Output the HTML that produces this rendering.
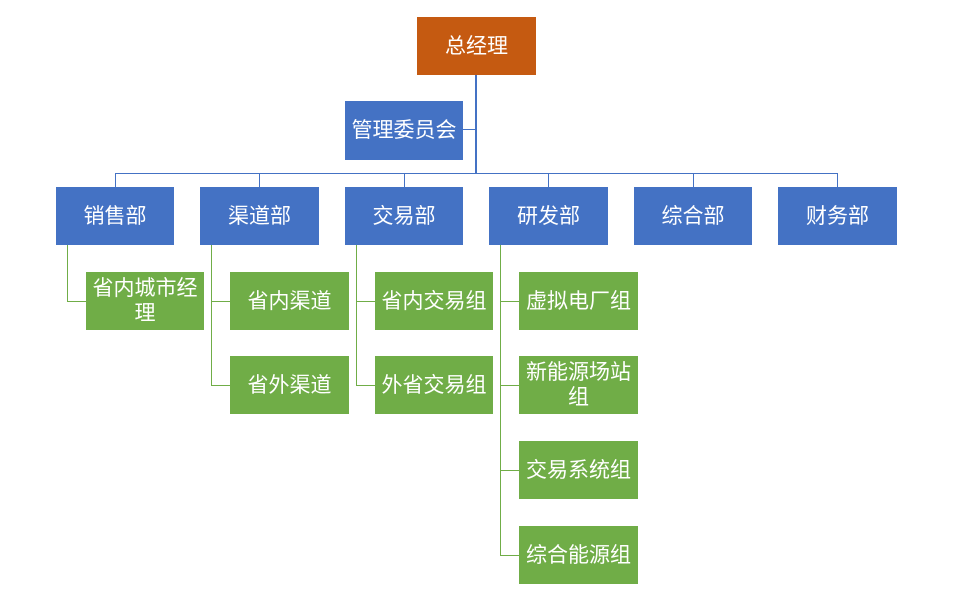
<!DOCTYPE html><html><head><meta charset="utf-8"><style>
body{margin:0;width:972px;height:607px;background:#fff;position:relative;overflow:hidden;font-family:"Liberation Sans","Noto Sans CJK SC",sans-serif}
.b{position:absolute;color:#fff;font-size:21px;line-height:25px;display:flex;align-items:center;justify-content:center;text-align:center;box-sizing:border-box;padding:0}
.o{background:#c55a11}.u{background:#4472c4}.g{background:#70ad47}
.l{position:absolute;background:#4472c4}.gl{position:absolute;background:#70ad47}
</style></head><body>
<div class="l" style="left:475px;top:75px;width:2px;height:99px"></div>
<div class="l" style="left:463px;top:129px;width:13px;height:1px"></div>
<div class="l" style="left:115px;top:173px;width:723px;height:1px"></div>
<div class="l" style="left:115px;top:173px;width:1px;height:14px"></div>
<div class="l" style="left:259px;top:173px;width:1px;height:14px"></div>
<div class="l" style="left:404px;top:173px;width:1px;height:14px"></div>
<div class="l" style="left:548px;top:173px;width:1px;height:14px"></div>
<div class="l" style="left:693px;top:173px;width:1px;height:14px"></div>
<div class="l" style="left:837px;top:173px;width:1px;height:14px"></div>
<div class="gl" style="left:67px;top:245px;width:1px;height:56px"></div>
<div class="gl" style="left:67px;top:301px;width:19px;height:1px"></div>
<div class="gl" style="left:211px;top:245px;width:1px;height:140px"></div>
<div class="gl" style="left:211px;top:301px;width:19px;height:1px"></div>
<div class="gl" style="left:211px;top:385px;width:19px;height:1px"></div>
<div class="gl" style="left:356px;top:245px;width:1px;height:140px"></div>
<div class="gl" style="left:356px;top:301px;width:19px;height:1px"></div>
<div class="gl" style="left:356px;top:385px;width:19px;height:1px"></div>
<div class="gl" style="left:500px;top:245px;width:1px;height:310px"></div>
<div class="gl" style="left:500px;top:301px;width:19px;height:1px"></div>
<div class="gl" style="left:500px;top:385px;width:19px;height:1px"></div>
<div class="gl" style="left:500px;top:470px;width:19px;height:1px"></div>
<div class="gl" style="left:500px;top:555px;width:19px;height:1px"></div>
<div class="b o" style="left:417px;top:17px;width:119px;height:58px">总经理</div>
<div class="b u" style="left:345px;top:101px;width:118px;height:59px">管理委员会</div>
<div class="b u" style="left:56px;top:187px;width:118px;height:58px">销售部</div>
<div class="b u" style="left:200px;top:187px;width:119px;height:58px">渠道部</div>
<div class="b u" style="left:345px;top:187px;width:118px;height:58px">交易部</div>
<div class="b u" style="left:489px;top:187px;width:119px;height:58px">研发部</div>
<div class="b u" style="left:634px;top:187px;width:118px;height:58px">综合部</div>
<div class="b u" style="left:778px;top:187px;width:119px;height:58px">财务部</div>
<div class="b g" style="left:86px;top:272px;width:118px;height:58px">省内城市经理</div>
<div class="b g" style="left:230px;top:272px;width:119px;height:58px">省内渠道</div>
<div class="b g" style="left:230px;top:356px;width:119px;height:58px">省外渠道</div>
<div class="b g" style="left:375px;top:272px;width:118px;height:58px">省内交易组</div>
<div class="b g" style="left:375px;top:356px;width:118px;height:58px">外省交易组</div>
<div class="b g" style="left:519px;top:272px;width:119px;height:58px">虚拟电厂组</div>
<div class="b g" style="left:519px;top:356px;width:119px;height:58px">新能源场站组</div>
<div class="b g" style="left:519px;top:441px;width:119px;height:58px">交易系统组</div>
<div class="b g" style="left:519px;top:526px;width:119px;height:58px">综合能源组</div>
</body></html>
